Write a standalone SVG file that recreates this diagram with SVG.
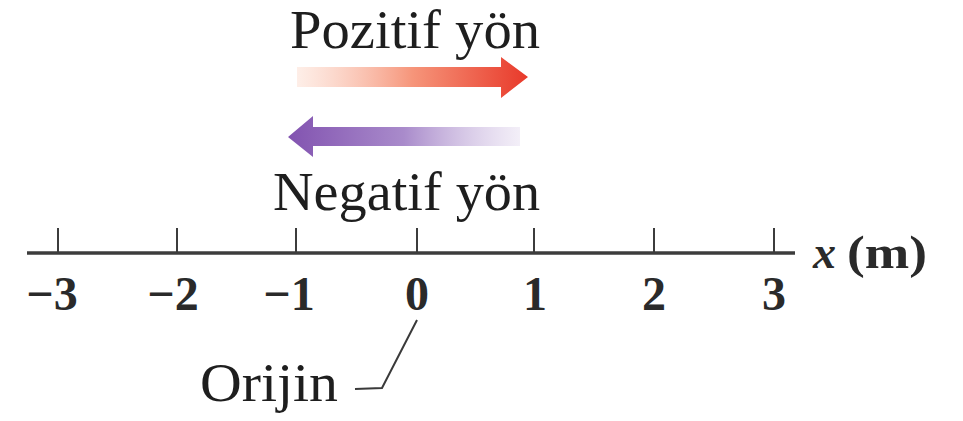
<svg xmlns="http://www.w3.org/2000/svg" width="963" height="421" viewBox="0 0 963 421">
<defs>
<linearGradient id="gRed" x1="297" y1="0" x2="528" y2="0" gradientUnits="userSpaceOnUse">
<stop offset="0" stop-color="#fde3d8" stop-opacity="0.6"/>
<stop offset="0.5" stop-color="#f6957a"/>
<stop offset="1" stop-color="#e8392a"/>
</linearGradient>
<linearGradient id="gPur" x1="288" y1="0" x2="520" y2="0" gradientUnits="userSpaceOnUse">
<stop offset="0" stop-color="#8253b0"/>
<stop offset="0.5" stop-color="#a98bcb"/>
<stop offset="1" stop-color="#ebe4f3" stop-opacity="0.6"/>
</linearGradient>
</defs>
<style>
.t{font-family:"Liberation Serif","Times New Roman",serif;fill:#1e1e1e}
.lbl{font-size:55px}
.num{font-size:48px;font-weight:bold;text-anchor:middle;fill:#2a2a2a}
.ax{stroke:#3c3c3c;fill:none}
</style>
<rect width="963" height="421" fill="#ffffff"/>
<g id="positive">
<text class="t lbl" x="290" y="48" textLength="250" lengthAdjust="spacingAndGlyphs">Pozitif yön</text>
<path d="M297,67 L501,67 L501,57 L528,77 L501,98 L501,87 L297,87 Z" fill="url(#gRed)"/>
</g>
<g id="negative">
<path d="M520,127 L313,127 L313,116 L288,137 L313,157 L313,146 L520,146 Z" fill="url(#gPur)"/>
<text class="t lbl" x="273" y="210" textLength="267" lengthAdjust="spacingAndGlyphs">Negatif yön</text>
</g>
<g id="axis">
<line class="ax" x1="27" y1="253" x2="795" y2="253" stroke-width="3.5"/>
<g class="ax" stroke-width="2">
<line x1="58" y1="228" x2="58" y2="253"/>
<line x1="177" y1="228" x2="177" y2="253"/>
<line x1="296" y1="228" x2="296" y2="253"/>
<line x1="417" y1="228" x2="417" y2="253"/>
<line x1="534" y1="228" x2="534" y2="253"/>
<line x1="654" y1="228" x2="654" y2="253"/>
<line x1="774" y1="228" x2="774" y2="253"/>
</g>
<text class="t" x="813" y="268" style="font-size:46px;font-style:italic;font-weight:bold;fill:#2a2a2a">x</text>
<text class="t" x="847" y="268" style="font-size:46px;font-weight:bold;fill:#2a2a2a" textLength="80" lengthAdjust="spacingAndGlyphs">(m)</text>
</g>
<g id="ticks-labels">
<text class="t num" x="52" y="310">−3</text>
<text class="t num" x="173" y="310">−2</text>
<text class="t num" x="289" y="310">−1</text>
<text class="t num" x="417" y="310">0</text>
<text class="t num" x="535" y="310">1</text>
<text class="t num" x="654" y="310">2</text>
<text class="t num" x="774" y="310">3</text>
</g>
<g id="origin">
<text class="t lbl" x="200" y="401" textLength="138" lengthAdjust="spacingAndGlyphs">Orijin</text>
</g>
<g id="connectors">
<polyline points="417,320 382,388 355,389" fill="none" stroke="#3a3a3a" stroke-width="2"/>
</g>
</svg>
